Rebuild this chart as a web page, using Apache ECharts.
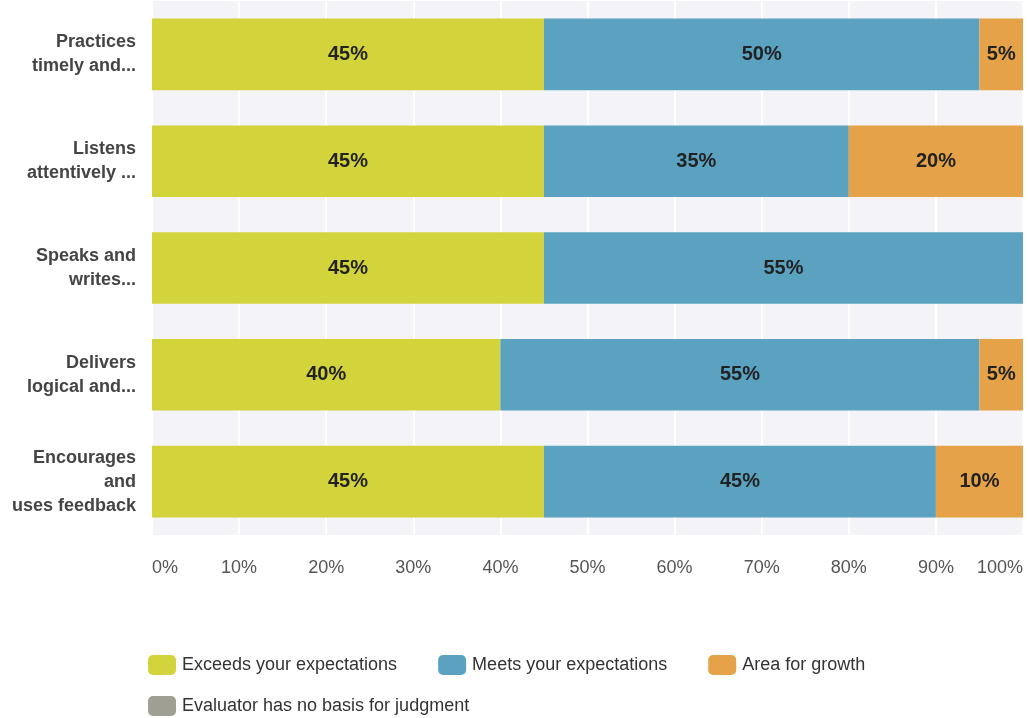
<!DOCTYPE html>
<html>
<head>
<meta charset="utf-8">
<script src="https://cdn.jsdelivr.net/npm/echarts@6/dist/echarts.min.js"></script>
<style>
  html, body { margin: 0; padding: 0; background: #fff; }
  #main { width: 1028px; height: 718px; }
</style>
</head>
<body>
<div id="main"></div>
<script>
const categories = [
  'Practices\ntimely and...',
  'Listens\nattentively ...',
  'Speaks and\nwrites...',
  'Delivers\nlogical and...',
  'Encourages\nand\nuses feedback'
];
const exceeds = [45, 45, 45, 40, 45];
const meets = [50, 35, 55, 55, 45];
const growth = [5, 20, 0, 5, 10];
const noBasis = [0, 0, 0, 0, 0];
const xTicks = [0, 10, 20, 30, 40, 50, 60, 70, 80, 90, 100];

const myChart = echarts.init(document.getElementById('main'));

function pctLabel(p) {
  return p.value ? p.value + '%' : '';
}

function makeSeries(name, data, color) {
  return {
    name: name,
    type: 'bar',
    stack: 'total',
    barCategoryGap: '33%',
    data: data,
    itemStyle: { color: color },
    label: {
      show: true,
      formatter: pctLabel,
      color: '#222',
      fontWeight: 'bold',
      fontSize: 20
    }
  };
}

option = {
  animation: false,
  textStyle: { fontFamily: 'Liberation Sans, Arial, sans-serif' },
  grid: {
    left: 152,
    right: 5,
    top: 1,
    height: 534,
    show: true,
    backgroundColor: '#f3f3f8',
    borderWidth: 0
  },
  legend: [{
    data: ['Exceeds your expectations', 'Meets your expectations', 'Area for growth'],
    left: 143,
    top: 650,
    itemWidth: 28,
    itemHeight: 20,
    itemGap: 41,
    icon: 'roundRect',
    textStyle: { fontSize: 18, color: '#333', padding: [0, 0, 0, 1] }
  }, {
    data: ['Evaluator has no basis for judgment'],
    left: 143,
    top: 691,
    itemWidth: 28,
    itemHeight: 20,
    icon: 'roundRect',
    textStyle: { fontSize: 18, color: '#333', padding: [0, 0, 0, 1] }
  }],
  xAxis: {
    type: 'value',
    min: xTicks[0],
    max: xTicks[xTicks.length - 1],
    interval: 10,
    axisLine: { show: false },
    axisTick: { show: false },
    splitLine: { show: true, lineStyle: { color: '#ffffff', width: 2 } },
    axisLabel: {
      formatter: '{value}%',
      fontSize: 18,
      color: '#555',
      margin: 24,
      alignMinLabel: 'left',
      alignMaxLabel: 'right'
    }
  },
  yAxis: {
    type: 'category',
    inverse: true,
    data: categories,
    axisLine: { show: false },
    axisTick: { show: false },
    axisLabel: {
      fontSize: 18,
      fontWeight: 'bold',
      color: '#444',
      lineHeight: 24,
      margin: 16
    }
  },
  series: [
    makeSeries('Exceeds your expectations', exceeds, '#d3d43c'),
    makeSeries('Meets your expectations', meets, '#5aa2c0'),
    makeSeries('Area for growth', growth, '#e6a248'),
    makeSeries('Evaluator has no basis for judgment', noBasis, '#a09f94')
  ]
};

myChart.setOption(option);
</script>
</body>
</html>
